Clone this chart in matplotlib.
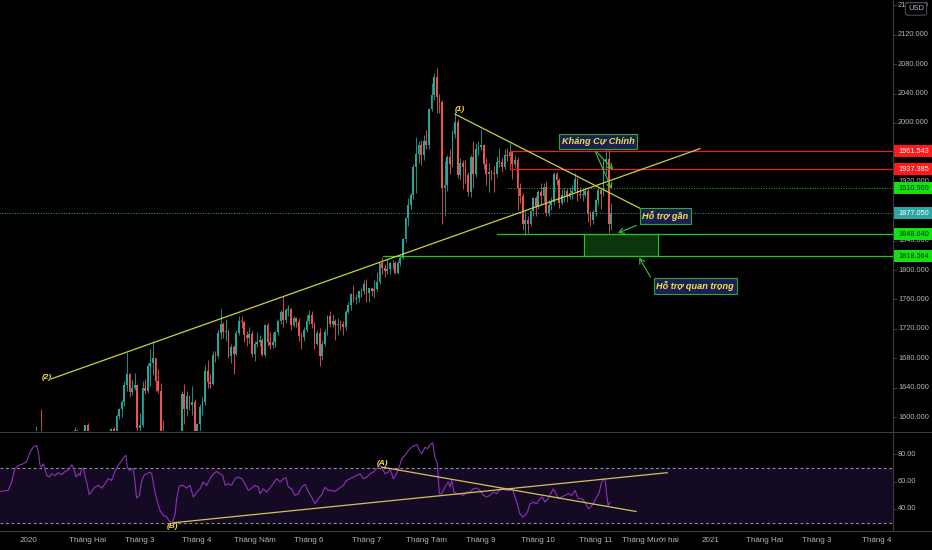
import matplotlib
matplotlib.use("Agg")
import matplotlib.pyplot as plt
import matplotlib.transforms as mtransforms
from matplotlib.lines import Line2D
from matplotlib.patches import Rectangle
import numpy as np
import pandas as pd


# daily XAUUSD candles, 2020-01-01 .. 2020-11-10 (business days)
closes = [
    1519, 1528, 1552, 1566, 1574, 1556, 1552, 1562, 1548, 1544, 1557, 1551, 1557, 1560, 1558, 1558, 1563, 1571, 1582, 1567, 1577, 1575, 1589,  # Jan
    1576, 1551, 1556, 1566, 1570, 1573, 1567, 1566, 1576, 1584, 1581, 1602, 1611, 1620, 1643, 1658, 1634, 1640, 1643, 1585,  # Feb
    1589, 1640, 1636, 1669, 1674, 1680, 1649, 1635, 1576, 1530, 1514, 1526, 1478, 1470, 1498, 1555, 1631, 1611, 1629, 1617, 1621, 1577,  # Mar
    1591, 1613, 1620, 1663, 1648, 1645, 1684, 1683, 1714, 1727, 1716, 1717, 1683, 1695, 1686, 1714, 1731, 1729, 1712, 1707, 1713, 1686,  # Apr
    1700, 1702, 1705, 1685, 1725, 1702, 1698, 1702, 1715, 1730, 1743, 1732, 1745, 1747, 1725, 1735, 1729, 1710, 1709, 1719, 1730,  # May
    1739, 1727, 1700, 1714, 1683, 1699, 1715, 1737, 1727, 1730, 1725, 1727, 1726, 1722, 1743, 1753, 1768, 1761, 1762, 1771, 1772, 1781,  # Jun
    1769, 1775, 1772, 1774, 1784, 1809, 1803, 1798, 1802, 1809, 1809, 1796, 1810, 1817, 1842, 1871, 1888, 1902, 1940, 1958, 1970, 1957, 1975,  # Jul
    1970, 2019, 2038, 2063, 2035, 2028, 1911, 1915, 1954, 1944, 1985, 2002, 1929, 1946, 1940, 1929, 1906, 1954, 1930, 1964, 1968,  # Aug
    1970, 1944, 1930, 1934, 1932, 1930, 1947, 1947, 1940, 1956, 1955, 1960, 1944, 1950, 1912, 1900, 1863, 1868, 1862, 1880, 1898, 1886,  # Sep
    1906, 1900, 1913, 1878, 1888, 1893, 1930, 1922, 1891, 1902, 1908, 1899, 1905, 1907, 1924, 1904, 1902, 1902, 1908, 1878, 1868, 1879,  # Oct
    1895, 1909, 1903, 1947, 1951, 1862, 1877,  # Nov
]
highs = [
    1521, 1529, 1553, 1588, 1576, 1611, 1561, 1563, 1563, 1549, 1558, 1557, 1561, 1563, 1566, 1561, 1566, 1573, 1586, 1582, 1577, 1583, 1589,
    1592, 1577, 1562, 1569, 1574, 1581, 1574, 1571, 1578, 1585, 1586, 1604, 1612, 1623, 1649, 1689, 1660, 1650, 1660, 1644,
    1606, 1649, 1652, 1673, 1692, 1703, 1680, 1665, 1646, 1596, 1575, 1548, 1547, 1501, 1518, 1563, 1635, 1645, 1636, 1630, 1642, 1624,
    1592, 1618, 1627, 1671, 1677, 1658, 1690, 1690, 1718, 1747, 1729, 1733, 1720, 1700, 1698, 1718, 1738, 1738, 1731, 1717, 1722, 1717,
    1704, 1716, 1711, 1707, 1726, 1728, 1715, 1714, 1717, 1734, 1746, 1765, 1749, 1752, 1748, 1737, 1736, 1735, 1715, 1723, 1739,
    1745, 1744, 1729, 1718, 1721, 1703, 1720, 1739, 1744, 1740, 1733, 1735, 1732, 1731, 1746, 1757, 1769, 1779, 1768, 1772, 1775, 1786,
    1788, 1776, 1777, 1786, 1797, 1810, 1818, 1808, 1815, 1811, 1814, 1812, 1812, 1821, 1844, 1872, 1898, 1905, 1944, 1981, 1975, 1977, 1984,
    1990, 2020, 2055, 2068, 2075, 2040, 2031, 1948, 1956, 1965, 1990, 2015, 2005, 1953, 1950, 1949, 1934, 1956, 1976, 1973, 1976,
    1992, 1972, 1952, 1946, 1936, 1942, 1955, 1966, 1953, 1964, 1966, 1973, 1962, 1956, 1954, 1918, 1905, 1880, 1873, 1882, 1899, 1901,
    1909, 1918, 1918, 1921, 1895, 1899, 1933, 1933, 1925, 1910, 1911, 1912, 1913, 1916, 1932, 1926, 1913, 1910, 1913, 1911, 1880, 1882,
    1897, 1911, 1911, 1951, 1965, 1965, 1891,
]
lows = [
    1516, 1517, 1525, 1550, 1558, 1555, 1535, 1545, 1546, 1536, 1542, 1548, 1550, 1555, 1546, 1551, 1549, 1556, 1570, 1563, 1564, 1568, 1571,
    1573, 1548, 1547, 1554, 1562, 1569, 1562, 1563, 1564, 1572, 1577, 1578, 1598, 1600, 1615, 1636, 1627, 1630, 1637, 1562,
    1575, 1587, 1632, 1633, 1642, 1657, 1635, 1633, 1560, 1504, 1451, 1465, 1470, 1455, 1465, 1483, 1546, 1590, 1602, 1610, 1603, 1567,
    1567, 1574, 1603, 1616, 1640, 1639, 1643, 1675, 1680, 1706, 1707, 1704, 1680, 1673, 1659, 1684, 1711, 1721, 1702, 1696, 1701, 1681,
    1676, 1695, 1696, 1683, 1682, 1697, 1693, 1694, 1695, 1712, 1727, 1722, 1728, 1738, 1719, 1722, 1723, 1704, 1693, 1703, 1715,
    1726, 1721, 1693, 1698, 1670, 1678, 1696, 1711, 1722, 1722, 1705, 1711, 1718, 1712, 1719, 1741, 1746, 1757, 1754, 1757, 1763, 1767,
    1757, 1757, 1765, 1762, 1771, 1781, 1795, 1791, 1794, 1794, 1802, 1795, 1794, 1805, 1815, 1838, 1860, 1883, 1897, 1905, 1946, 1943, 1950,
    1964, 1965, 2016, 2031, 2013, 2013, 1863, 1874, 1908, 1930, 1940, 1979, 1925, 1922, 1910, 1919, 1900, 1899, 1912, 1927, 1956,
    1963, 1937, 1916, 1906, 1922, 1906, 1927, 1940, 1934, 1937, 1948, 1952, 1924, 1940, 1882, 1891, 1854, 1848, 1850, 1860, 1874, 1873,
    1883, 1888, 1893, 1873, 1874, 1882, 1889, 1915, 1885, 1888, 1893, 1893, 1896, 1897, 1906, 1894, 1898, 1894, 1899, 1865, 1860, 1862,
    1874, 1889, 1883, 1900, 1931, 1850, 1855,
]
opens = [1517] + closes[:-1]

# RSI line (x = bar index from 2020-01-01)
rsi_x = [
    -10.8, -7.6, -6.3, -5.0, -3.7, -1.8, -0.5, 0.8, 2.0, 3.3, 4.0, 4.6, 5.2, 5.9, 6.5, 7.2, 8.2, 9.1, 10.4,
    11.6, 12.9, 14.2, 15.5, 16.8, 17.7, 18.4, 19.3, 20.0, 20.6, 21.2, 21.9, 22.8, 23.5, 24.4, 25.7, 27.0,
    28.3, 29.6, 30.8, 32.1, 33.4, 34.7, 36.0, 36.9, 37.6, 38.1, 38.9, 39.8, 40.4, 41.1, 41.7, 42.8, 43.6,
    44.5, 45.6, 46.9, 47.5, 48.1, 48.8, 49.7, 50.7, 52.0, 53.3, 54.3, 55.2, 55.8, 56.5, 57.1, 58.1, 59.4,
    60.9, 62.2, 63.5, 64.8, 66.1, 67.3, 68.6, 69.9, 71.2, 72.5, 73.7, 74.8, 75.7, 76.9, 78.2, 79.5, 80.8,
    82.1, 83.3, 84.6, 85.9, 87.2, 88.5, 89.1, 90.4, 91.7, 92.9, 94.2, 95.5, 96.8, 98.1, 99.1, 100.0, 101.3,
    102.5, 103.8, 105.1, 106.4, 107.7, 108.9, 110.2, 111.5, 112.8, 114.1, 115.3, 116.6, 117.9, 121.1, 122.4,
    123.7, 124.9, 126.2, 127.5, 128.8, 130.1, 131.3, 132.6, 133.9, 134.9, 135.8, 137.1, 138.4, 139.0, 139.7,
    140.3, 141.3, 142.6, 143.5, 144.8, 146.1, 147.3, 148.6, 149.5, 150.3, 151.2, 152.5, 153.4, 154.4, 155.4,
    156.3, 157.2, 158.0, 158.9, 160.1, 161.4, 162.1, 162.7, 163.6, 164.6, 165.9, 167.2, 168.5, 169.7, 171.0,
    172.3, 173.6, 174.9, 176.1, 177.4, 178.7, 180.0, 181.3, 182.5, 183.8, 185.1, 186.1, 187.0, 187.9, 188.9,
    190.0, 190.9, 191.8, 192.8, 194.1, 195.3, 196.6, 197.6, 198.5, 199.8, 201.1, 201.7, 202.8, 203.7, 204.9,
    206.2, 207.5, 208.8, 210.1, 211.3, 212.6, 213.9, 215.2, 216.1, 217.1, 218.4, 219.4, 220.3, 221.2, 221.7,
    222.2, 222.8, 223.5,
]
rsi_values = [
    52.8, 53.5, 59.6, 69.3, 71.7, 72.9, 74.6, 81.4, 85.0, 86.2, 81.4, 71.7, 70.5, 72.9, 69.3, 64.4, 63.2, 65.6, 64.4,
    66.4, 64.9, 67.3, 68.1, 72.2, 69.3, 63.2, 65.6, 64.4, 69.3, 69.8, 64.4, 57.2, 50.4, 52.8, 55.9, 57.2,
    55.2, 58.4, 62.0, 60.8, 67.3, 71.7, 75.3, 77.8, 79.0, 70.5, 68.1, 68.8, 69.3, 59.6, 47.9, 49.9, 59.6,
    64.4, 65.6, 66.8, 65.6, 59.6, 52.3, 45.0, 39.0, 35.3, 34.1, 31.0, 30.5, 31.7, 36.5, 47.5, 56.7, 57.2,
    55.2, 57.2, 48.7, 52.3, 54.7, 59.6, 57.2, 62.0, 65.6, 67.3, 65.6, 64.4, 57.2, 58.4, 57.2, 62.0, 63.2,
    62.0, 58.4, 53.5, 55.2, 57.2, 55.9, 51.1, 54.7, 52.3, 55.2, 58.4, 62.0, 59.6, 62.0, 62.5, 55.9, 54.7,
    49.9, 51.1, 55.9, 57.9, 52.3, 48.7, 43.8, 47.5, 50.4, 55.9, 53.5, 53.5, 52.8, 57.2, 60.8,
    62.0, 63.2, 64.4, 65.6, 62.0, 63.2, 65.6, 66.8, 69.3, 71.7, 70.5, 65.6, 66.8, 69.3, 65.6,
    62.0, 64.9, 70.5, 76.5, 79.0, 82.6, 85.0, 86.2, 86.7, 82.6, 80.2, 85.0, 83.8, 86.7, 88.2,
    77.8, 72.9, 51.1, 51.1, 55.9, 59.6, 55.9, 60.8, 52.3, 51.1, 51.1, 49.9, 52.3, 52.3, 54.7,
    55.2, 53.5, 49.9, 48.7, 49.9, 52.3, 51.1, 54.7, 54.7, 53.5, 53.5, 54.7, 48.7, 43.8, 36.5,
    34.1, 35.3, 37.8, 43.8, 45.0, 43.8, 47.5, 48.7, 45.0, 47.5, 52.3, 54.7, 51.1, 47.5, 48.7,
    49.9, 51.1, 49.9, 53.5, 47.5, 47.5, 45.0, 40.2, 41.4, 43.8, 48.7, 52.3, 59.6, 62.0, 60.8,
    51.1, 42.6, 45.0,
]

# horizontal levels drawn on the chart
level_prices = [1961.543, 1937.385, 1910.969, 1877.050, 1848.640, 1818.564]
level_starts = [185.1, 185.1, 184.3, -11.0, 180.1, 136.5]
level_colors = ["#e8201e", "#e8201e", "#22c022", "#3a9e9e", "#22c822", "#22c822"]
level_styles = ["-", "-", ":", ":", "-", "-"]
label_fills = ["#ff1a1a", "#ff1a1a", "#14e014", "#2ea6a6", "#14e014", "#14e014"]
label_texts = ["white", "white", "#0b3b0b", "white", "#0b3b0b", "#0b3b0b"]

# trend lines: (bar index, price)
trend_two = [(9.0, 1652.0), (258.0, 1965.0)]
trend_one = [(164.0, 2012.0), (235.0, 1884.0)]
rsi_trend_a = [(135.8, 70.5), (233.5, 38.2)]
rsi_trend_b = [(55.8, 30.0), (245.5, 66.4)]

support_box = (213.5, 242.0, 1818.564, 1848.640)

# 1880 sits fully under the 1877.050 price tag, so it is not listed
price_ticks = [1600, 1640, 1680, 1720, 1760, 1800, 1840, 1920, 1960, 2000, 2040, 2080, 2120, 2160]
rsi_ticks = [40, 60, 80]
month_labels = ["2020", "Tháng Hai", "Tháng 3", "Tháng 4", "Tháng Năm", "Tháng 6", "Tháng 7", "Tháng Tám",
                "Tháng 9", "Tháng 10", "Tháng 11", "Tháng Mười hai", "2021", "Tháng Hai", "Tháng 3", "Tháng 4"]

BG = "#000000"
UP = "#26a69a"
DOWN = "#ef5350"
GRID = "#3a3d45"
AXIS_TEXT = "#b2b5be"
YELLOW_LINE = "#cfcf3c"
RSI_LINE_COLOR = "#9031b8"
GREEN_ARROW = "#3cc43c"

W, H = 932, 550
RIGHT = 893
XLIM = (-10.75, 332.2)
NUM_SIZE = 5.3

fig = plt.figure(figsize=(W / 100, H / 100), dpi=100, facecolor=BG)
ax = fig.add_axes([0, 1 - 431 / H, RIGHT / W, 431 / H])
ax_rsi = fig.add_axes([0, 1 - 531 / H, RIGHT / W, 99 / H])

for a in (ax, ax_rsi):
    a.set_facecolor(BG)
    a.set_xlim(*XLIM)
    a.set_xticks([])
    a.set_yticks([])
    for s in a.spines.values():
        s.set_visible(False)

ax.set_ylim(1581.0, 2167.3)
ax_rsi.set_ylim(24.0, 96.0)

# candles
x = np.arange(len(closes))
o = np.array(opens, dtype=float)
c = np.array(closes, dtype=float)
hi = np.array(highs, dtype=float)
lo = np.array(lows, dtype=float)
colors = np.where(c >= o, UP, DOWN)
ax.vlines(x, lo, hi, colors=colors, linewidth=0.6, zorder=2)
body_low = np.minimum(o, c)
body_h = np.maximum(np.abs(c - o), 0.8)
ax.bar(x, body_h, bottom=body_low, width=0.68, color=colors, linewidth=0, zorder=2)

# levels
for p, start, col, ls in zip(level_prices, level_starts, level_colors, level_styles):
    lw = 0.7 if ls == ":" else 0.9
    ax.plot([start, XLIM[1]], [p, p], color=col, linestyle=ls, linewidth=lw, zorder=3)
ax.plot([level_starts[0], level_starts[0]], [level_prices[1], level_prices[0]], color=level_colors[0], linewidth=0.9, zorder=3)

x0, x1, y0, y1 = support_box
ax.add_patch(Rectangle((x0, y0), x1 - x0, y1 - y0, facecolor="#0c350c", edgecolor="#22c822", linewidth=0.8, zorder=2.5))

# trend lines
for pts in (trend_two, trend_one):
    ax.plot([pts[0][0], pts[1][0]], [pts[0][1], pts[1][1]], color=YELLOW_LINE, linewidth=0.9, zorder=4)

label_font = dict(family=["Liberation Sans", "DejaVu Sans"], style="italic", weight="bold")
ax.text(165.9, 2018, "(1)", color="#f0e040", fontsize=6, ha="center", va="center", zorder=6, **label_font)
ax.text(7.3, 1654, "(2)", color="#f0e040", fontsize=6, ha="center", va="center", zorder=6, **label_font)

# annotation boxes and arrows
box_style = dict(boxstyle="square,pad=0.3", facecolor="#1c2050", edgecolor="#2fa82f", linewidth=0.8)
ax.text(218.9, 1975, "Kháng Cự Chính", color="#f2e24a", fontsize=6.6, ha="center", va="center",
        bbox=box_style, zorder=7, **label_font)
ax.text(244.8, 1873.5, "Hỗ trợ gần", color="#f2e24a", fontsize=6.6, ha="center", va="center",
        bbox=box_style, zorder=7, **label_font)
ax.text(256.3, 1778, "Hỗ trợ quan trọng", color="#f2e24a", fontsize=6.6, ha="center", va="center",
        bbox=box_style, zorder=7, **label_font)

arrow_props = dict(arrowstyle="->,head_length=0.35,head_width=0.2", color=GREEN_ARROW, linewidth=0.8)
arrows = [
    ((217.5, 1964), (225.4, 1934)),
    ((217.5, 1964), (224.6, 1907)),
    ((234.6, 1862), (225.6, 1849)),
    ((239.6, 1787), (234.2, 1820)),
]
for start, end in arrows:
    ax.annotate("", xy=end, xytext=start, arrowprops=arrow_props, zorder=6)

# RSI pane
ax_rsi.axhspan(30, 70, color="#150a24", zorder=0)
for lvl in (30, 70):
    ax_rsi.axhline(lvl, color="#8d8f99", linewidth=0.8, linestyle=(0, (2.5, 2.5)), zorder=1)
ax_rsi.plot(rsi_x, rsi_values, color=RSI_LINE_COLOR, linewidth=0.8, zorder=3)
for pts in (rsi_trend_a, rsi_trend_b):
    ax_rsi.plot([pts[0][0], pts[1][0]], [pts[0][1], pts[1][1]], color="#d2c25a", linewidth=0.9, zorder=4)
ax_rsi.text(136.2, 73.2, "(A)", color="#f0e040", fontsize=6, ha="center", va="center", zorder=6, **label_font)
ax_rsi.text(55.6, 27.2, "(B)", color="#f0e040", fontsize=6, ha="center", va="center", zorder=6, **label_font)

# frame lines
fig.add_artist(Line2D([RIGHT / W, RIGHT / W], [1 - 531 / H, 1], color=GRID, linewidth=0.8))
fig.add_artist(Line2D([0, 1], [1 - 431.5 / H, 1 - 431.5 / H], color=GRID, linewidth=0.8))
fig.add_artist(Line2D([0, 1], [1 - 531 / H, 1 - 531 / H], color=GRID, linewidth=0.8))

# right price scale
num_font = dict(family=["Liberation Sans", "DejaVu Sans"])
tx_main = mtransforms.blended_transform_factory(fig.transFigure, ax.transData)
tx_rsi = mtransforms.blended_transform_factory(fig.transFigure, ax_rsi.transData)
for p in price_ticks:
    ax.text(898 / W, p, f"{p:.3f}", color=AXIS_TEXT, fontsize=NUM_SIZE, ha="left", va="center",
            transform=tx_main, clip_on=False, zorder=1, **num_font)
    ax.add_line(Line2D([RIGHT / W, 896 / W], [p, p], color=GRID, linewidth=0.7, transform=tx_main, clip_on=False))
for r in rsi_ticks:
    ax_rsi.text(898 / W, r, f"{r:.2f}", color=AXIS_TEXT, fontsize=NUM_SIZE, ha="left", va="center",
                transform=tx_rsi, clip_on=False, **num_font)
    ax_rsi.add_line(Line2D([RIGHT / W, 896 / W], [r, r], color=GRID, linewidth=0.7, transform=tx_rsi, clip_on=False))

for p, fill, tcol in zip(level_prices, label_fills, label_texts):
    ax.add_patch(Rectangle((RIGHT / W, p - 8.2), 1 - RIGHT / W, 16.4, transform=tx_main, facecolor=fill,
                           edgecolor="none", clip_on=False, zorder=8))
    ax.text(898 / W, p, f"{p:.3f}", color=tcol, fontsize=NUM_SIZE, ha="left", va="center",
            transform=tx_main, clip_on=False, zorder=9, **num_font)

fig.text(916 / W, 1 - 9 / H, "USD", color=AXIS_TEXT, fontsize=5.5, ha="center", va="center",
         bbox=dict(boxstyle="round,pad=0.35,rounding_size=0.3", facecolor=BG, edgecolor="#50535e", linewidth=0.7),
         zorder=10, **num_font)

# month labels on the bottom scale
all_days = pd.bdate_range("2020-01-01", "2021-04-30")
month_pos = []
for m in pd.date_range("2020-01-01", "2021-04-01", freq="MS"):
    first = all_days[all_days >= m][0]
    month_pos.append(all_days.get_loc(first))
tx_date = mtransforms.blended_transform_factory(ax_rsi.transData, fig.transFigure)
for pos, lab in zip(month_pos, month_labels):
    ax_rsi.text(pos, 1 - 541 / H, lab, color=AXIS_TEXT, fontsize=5.8, ha="center", va="center",
                transform=tx_date, clip_on=False, **num_font)

fig.savefig("out.png", dpi=100, facecolor=BG)
